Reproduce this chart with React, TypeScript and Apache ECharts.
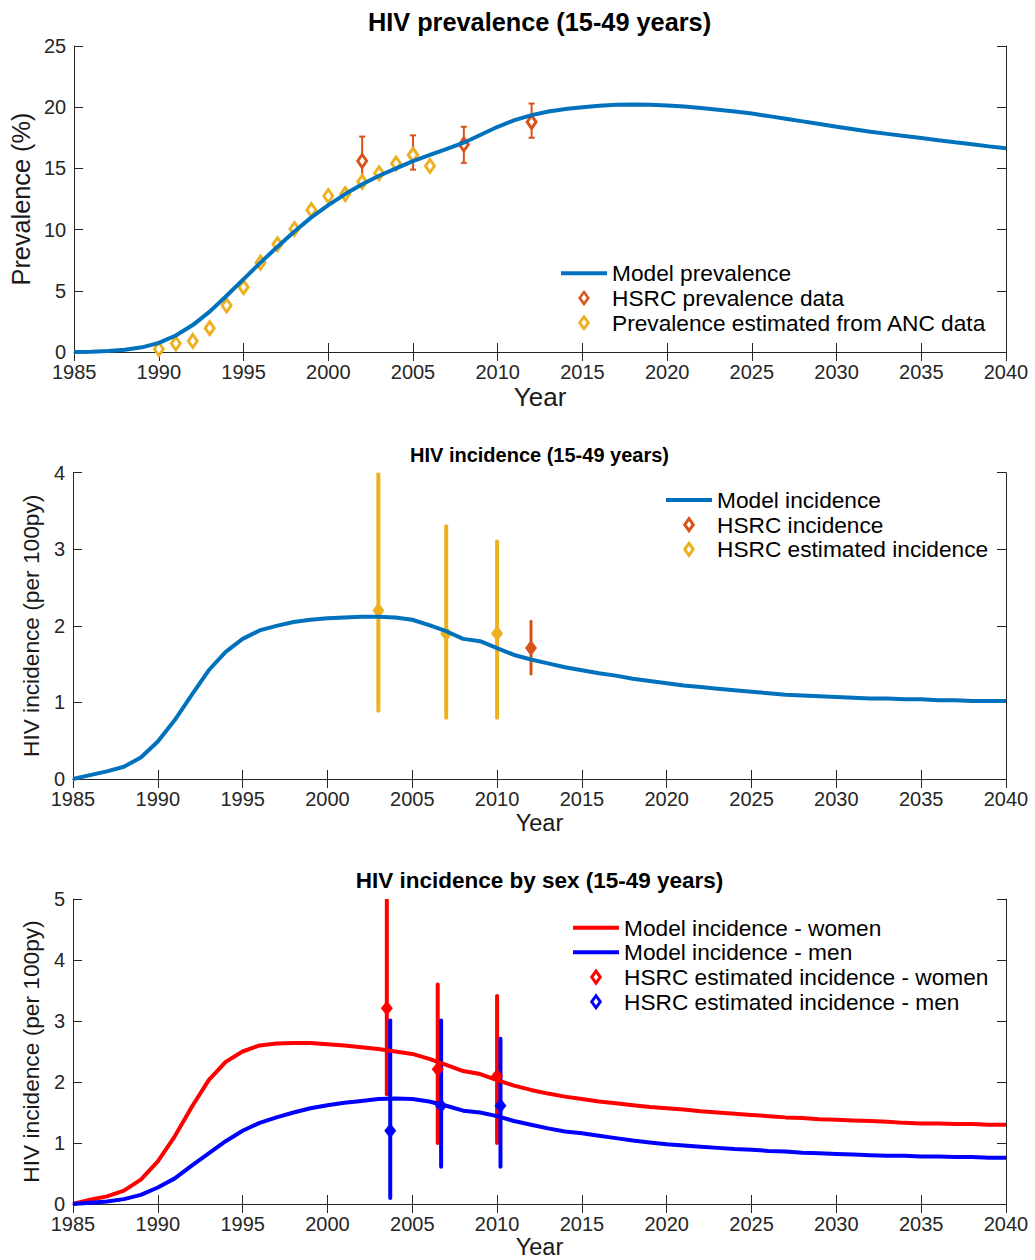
import React, { useEffect, useRef } from "react";
import * as echarts from "echarts";

const FONT = "'Liberation Sans', Arial, Helvetica, sans-serif";
const AX = "#262626";
const BLUE = "#0072BD";
const ORANGE = "#D95319";
const YELLOW = "#EDB120";
const RED = "#FF0000";
const PURE_BLUE = "#0000FF";

const years = [
  1985, 1986, 1987, 1988, 1989, 1990, 1991, 1992, 1993, 1994, 1995, 1996, 1997, 1998,
  1999, 2000, 2001, 2002, 2003, 2004, 2005, 2006, 2007, 2008, 2009, 2010, 2011, 2012,
  2013, 2014, 2015, 2016, 2017, 2018, 2019, 2020, 2021, 2022, 2023, 2024, 2025, 2026,
  2027, 2028, 2029, 2030, 2031, 2032, 2033, 2034, 2035, 2036, 2037, 2038, 2039, 2040,
];

// Panel 1: prevalence
const modelPrevalence = [
  0.0, 0.03, 0.08, 0.18, 0.38, 0.75, 1.35, 2.2, 3.3, 4.6, 5.95, 7.3, 8.6, 9.85,
  11.0, 12.0, 12.9, 13.7, 14.4, 15.0, 15.6, 16.1, 16.6, 17.1, 17.75, 18.4, 18.95, 19.35,
  19.65, 19.85, 20.0, 20.12, 20.2, 20.22, 20.2, 20.13, 20.05, 19.93, 19.8, 19.65, 19.48, 19.27,
  19.06, 18.84, 18.62, 18.4, 18.2, 18.0, 17.82, 17.65, 17.48, 17.3, 17.13, 16.97, 16.8, 16.65,
];
const ancYears = [1990, 1991, 1992, 1993, 1994, 1995, 1996, 1997, 1998, 1999, 2000, 2001, 2002, 2003, 2004, 2005, 2006];
const ancPrevalence = [0.25, 0.7, 0.9, 1.95, 3.8, 5.3, 7.3, 8.8, 10.05, 11.6, 12.75, 12.9, 13.9, 14.6, 15.4, 16.1, 15.2];
const hsrcPrevYears = [2002, 2005, 2008, 2012];
const hsrcPrev = [15.6, 16.1, 16.95, 18.8];
const hsrcPrevLow = [13.6, 14.9, 15.45, 17.5];
const hsrcPrevHigh = [17.6, 17.7, 18.4, 20.3];

// Panel 2: incidence
const modelIncidence = [
  0.0, 0.05, 0.1, 0.16, 0.28, 0.49, 0.77, 1.1, 1.42, 1.66, 1.83, 1.94, 2.0, 2.05,
  2.08, 2.1, 2.11, 2.12, 2.12, 2.11, 2.08, 2.01, 1.93, 1.83, 1.8, 1.71, 1.62, 1.56,
  1.51, 1.46, 1.42, 1.38, 1.35, 1.31, 1.28, 1.25, 1.22, 1.2, 1.18, 1.16, 1.14, 1.12,
  1.1, 1.09, 1.08, 1.07, 1.06, 1.05, 1.05, 1.04, 1.04, 1.03, 1.03, 1.02, 1.02, 1.02,
];
const hsrcEstYears = [2003, 2007, 2010];
const hsrcEst = [2.2, 1.9, 1.9];
const hsrcEstLow = [0.89, 0.8, 0.8];
const hsrcEstHigh = [4.05, 3.3, 3.1];
const hsrcIncYears = [2012];
const hsrcInc = [1.71];
const hsrcIncLow = [1.37];
const hsrcIncHigh = [2.06];

// Panel 3: incidence by sex
const modelWomen = [
  0.0, 0.07, 0.125, 0.22, 0.4, 0.7, 1.11, 1.59, 2.03, 2.33, 2.5, 2.6, 2.63, 2.64,
  2.64, 2.62, 2.6, 2.57, 2.54, 2.5, 2.46, 2.38, 2.28, 2.18, 2.13, 2.03, 1.94, 1.87,
  1.81, 1.76, 1.72, 1.68, 1.65, 1.62, 1.59, 1.57, 1.55, 1.52, 1.5, 1.48, 1.46, 1.44,
  1.42, 1.41, 1.39, 1.38, 1.37, 1.36, 1.35, 1.33, 1.32, 1.32, 1.31, 1.31, 1.3, 1.3,
];
const modelMen = [
  0.0, 0.02, 0.04, 0.08, 0.15, 0.27, 0.42, 0.63, 0.83, 1.03, 1.2, 1.33, 1.42, 1.5,
  1.57, 1.62, 1.66, 1.69, 1.72, 1.73, 1.72, 1.68, 1.61, 1.53, 1.5, 1.44, 1.36, 1.3,
  1.24, 1.19, 1.16, 1.12, 1.08, 1.04, 1.01, 0.98, 0.96, 0.94, 0.92, 0.9, 0.89, 0.87,
  0.86, 0.84, 0.83, 0.82, 0.81, 0.8, 0.79, 0.79, 0.78, 0.78, 0.77, 0.77, 0.76, 0.76,
];
const womenYears = [2003.5, 2006.5, 2010.0];
const womenEst = [3.21, 2.21, 2.1];
const womenLow = [1.8, 1.0, 1.0];
const womenHigh = [5.05, 3.6, 3.41];
const menYears = [2003.7, 2006.7, 2010.2];
const menEst = [1.2, 1.61, 1.61];
const menLow = [0.1, 0.61, 0.61];
const menHigh = [3.01, 3.01, 2.71];

const xTicks = { min: 1985, max: 2040, interval: 5 };
const yPrev = { min: 0, max: 25, interval: 5 };
const yInc = { min: 0, max: 4, interval: 1 };
const ySex = { min: 0, max: 5, interval: 1 };

const DIAMOND = "path://M5,0L10,7L5,14L0,7Z";
const LINE_ICON = "path://M0,0L46,0L46,4L0,4Z";

const pairs = (xs: number[], ys: number[]) => xs.map((x, i) => [x, ys[i]]);
const quads = (xs: number[], ys: number[], lo: number[], hi: number[]) =>
  xs.map((x, i) => [x, ys[i], lo[i], hi[i]]);

const errorBar = (cap: number, width: number, color: string) => (params: any, api: any) => {
  const x = api.value(0);
  const lo = api.coord([x, api.value(2)]);
  const hi = api.coord([x, api.value(3)]);
  const style = { stroke: color, lineWidth: width, lineCap: cap > 0 ? "butt" : "round" };
  const children: any[] = [
    { type: "line", shape: { x1: lo[0], y1: lo[1], x2: hi[0], y2: hi[1] }, style },
  ];
  if (cap > 0) {
    children.push({ type: "line", shape: { x1: lo[0] - cap, y1: lo[1], x2: lo[0] + cap, y2: lo[1] }, style });
    children.push({ type: "line", shape: { x1: hi[0] - cap, y1: hi[1], x2: hi[0] + cap, y2: hi[1] }, style });
  }
  return { type: "group", children };
};

const tickStyle = { inside: true, length: 9, lineStyle: { color: AX, width: 1 } };
const lineStyleAx = { lineStyle: { color: AX, width: 1 } };

function makeAxes(gridIndex: number, yRange: any, yName: string, yNameSize: number, yNameGap: number, xNameSize: number, xNameGap: number) {
  const xAxes = [
    {
      type: "value", gridIndex, position: "bottom", ...xTicks,
      name: "Year", nameLocation: "middle", nameGap: xNameGap,
      nameTextStyle: { fontFamily: FONT, fontSize: xNameSize, color: "#1a1a1a" },
      axisLine: lineStyleAx, axisTick: tickStyle, splitLine: { show: false },
      axisLabel: { fontFamily: FONT, fontSize: 20, lineHeight: 20, color: AX, margin: 10, formatter: (v: number) => String(v) },
    },
    {
      type: "value", gridIndex, position: "top", ...xTicks,
      axisLine: lineStyleAx, axisTick: tickStyle, splitLine: { show: false }, axisLabel: { show: false },
    },
  ];
  const yAxes = [
    {
      type: "value", gridIndex, position: "left", ...yRange,
      name: yName, nameLocation: "middle", nameGap: yNameGap,
      nameTextStyle: { fontFamily: FONT, fontSize: yNameSize, color: "#1a1a1a" },
      axisLine: { show: true, ...lineStyleAx }, axisTick: { show: true, ...tickStyle }, splitLine: { show: false },
      axisLabel: { fontFamily: FONT, fontSize: 20, lineHeight: 18, color: AX, margin: 8 },
    },
    {
      type: "value", gridIndex, position: "right", ...yRange,
      axisLine: { show: true, ...lineStyleAx }, axisTick: { show: true, ...tickStyle }, splitLine: { show: false },
      axisLabel: { show: false },
    },
  ];
  return { xAxes, yAxes };
}

const legendBase = {
  orient: "vertical",
  padding: 0,
  itemGap: 0,
  selectedMode: false,
  textStyle: { fontFamily: FONT, fontSize: 22.7, color: "#000", lineHeight: 24.7 },
};

const diamondIcon = (c: string) => ({ icon: DIAMOND, itemStyle: { color: "#fff", borderColor: c, borderWidth: 3 } });
const lineIcon = (c: string) => ({ icon: LINE_ICON, itemStyle: { color: c, borderWidth: 0 } });

function buildOption() {
  const a0 = makeAxes(0, yPrev, "Prevalence (%)", 25.3, 40, 26, 32);
  const a1 = makeAxes(1, yInc, "HIV incidence (per 100py)", 22.7, 19, 23.5, 32);
  const a2 = makeAxes(2, ySex, "HIV incidence (per 100py)", 22.7, 19, 23.5, 31);

  // axis indices: grid0 -> x 0,1 y 0,1 ; grid1 -> x 2,3 y 2,3 ; grid2 -> x 4,5 y 4,5
  return {
    animation: false,
    backgroundColor: "#fff",
    textStyle: { fontFamily: FONT },
    title: [
      { text: "HIV prevalence (15-49 years)", left: 539.5, top: 9.5, textAlign: "center", padding: 0,
        textStyle: { fontFamily: FONT, fontSize: 25.3, fontWeight: "bold", color: "#000" } },
      { text: "HIV incidence (15-49 years)", left: 539.5, top: 445, textAlign: "center", padding: 0,
        textStyle: { fontFamily: FONT, fontSize: 20, fontWeight: "bold", color: "#000" } },
      { text: "HIV incidence by sex (15-49 years)", left: 539.5, top: 868.5, textAlign: "center", padding: 0,
        textStyle: { fontFamily: FONT, fontSize: 22.5, fontWeight: "bold", color: "#000" } },
    ],
    grid: [
      { left: 73, top: 46, width: 933, height: 306 },
      { left: 73, top: 472.7, width: 933, height: 306.3 },
      { left: 73, top: 899, width: 933, height: 308 },
    ],
    xAxis: [...a0.xAxes, ...a1.xAxes, ...a2.xAxes],
    yAxis: [...a0.yAxes, ...a1.yAxes, ...a2.yAxes],
    legend: [
      {
        ...legendBase, left: 561, top: 261, itemWidth: 46, itemHeight: 12,
        data: [
          { name: "Model prevalence", ...lineIcon(BLUE) },
          { name: "HSRC prevalence data", icon: DIAMOND, itemStyle: { color: "#fff", borderColor: ORANGE, borderWidth: 2.5 } },
          { name: "Prevalence estimated from ANC data", ...diamondIcon(YELLOW) },
        ],
      },
      {
        ...legendBase, left: 666, top: 487.6, itemWidth: 46, itemHeight: 12,
        data: [
          { name: "Model incidence", ...lineIcon(BLUE) },
          { name: "HSRC incidence", ...diamondIcon(ORANGE) },
          { name: "HSRC estimated incidence", ...diamondIcon(YELLOW) },
        ],
      },
      {
        ...legendBase, left: 573, top: 915.3, itemWidth: 46, itemHeight: 12,
        data: [
          { name: "Model incidence - women", ...lineIcon(RED) },
          { name: "Model incidence - men", ...lineIcon(PURE_BLUE) },
          { name: "HSRC estimated incidence - women", ...diamondIcon(RED) },
          { name: "HSRC estimated incidence - men", ...diamondIcon(PURE_BLUE) },
        ],
      },
    ],
    series: [
      // Panel 1
      {
        name: "Model prevalence", type: "line", xAxisIndex: 0, yAxisIndex: 0,
        data: pairs(years, modelPrevalence), symbol: "none", showSymbol: false,
        lineStyle: { color: BLUE, width: 4 }, itemStyle: { color: BLUE },
      },
      {
        name: "HSRC prevalence bars", type: "custom", xAxisIndex: 0, yAxisIndex: 0, clip: true,
        data: quads(hsrcPrevYears, hsrcPrev, hsrcPrevLow, hsrcPrevHigh),
        encode: { x: 0, y: 1 }, renderItem: errorBar(3, 2, ORANGE),
      },
      {
        name: "HSRC prevalence data", type: "scatter", xAxisIndex: 0, yAxisIndex: 0,
        data: pairs(hsrcPrevYears, hsrcPrev), symbol: "diamond", symbolSize: [9, 13],
        itemStyle: { color: "#fff", borderColor: ORANGE, borderWidth: 3, opacity: 1 },
      },
      {
        name: "Prevalence estimated from ANC data", type: "scatter", xAxisIndex: 0, yAxisIndex: 0,
        data: pairs(ancYears, ancPrevalence), symbol: "diamond", symbolSize: [9, 13],
        itemStyle: { color: "#fff", borderColor: YELLOW, borderWidth: 3, opacity: 1 },
      },
      // Panel 2
      {
        name: "Model incidence", type: "line", xAxisIndex: 2, yAxisIndex: 2,
        data: pairs(years, modelIncidence), symbol: "none", showSymbol: false,
        lineStyle: { color: BLUE, width: 4 }, itemStyle: { color: BLUE },
      },
      {
        name: "HSRC incidence bars", type: "custom", xAxisIndex: 2, yAxisIndex: 2, clip: true,
        data: quads(hsrcIncYears, hsrcInc, hsrcIncLow, hsrcIncHigh),
        encode: { x: 0, y: 1 }, renderItem: errorBar(0, 3, ORANGE),
      },
      {
        name: "HSRC incidence", type: "scatter", xAxisIndex: 2, yAxisIndex: 2,
        data: pairs(hsrcIncYears, hsrcInc), symbol: "diamond", symbolSize: [12, 16],
        itemStyle: { color: ORANGE, opacity: 1 },
      },
      {
        name: "HSRC estimated bars", type: "custom", xAxisIndex: 2, yAxisIndex: 2, clip: true,
        data: quads(hsrcEstYears, hsrcEst, hsrcEstLow, hsrcEstHigh),
        encode: { x: 0, y: 1 }, renderItem: errorBar(0, 4, YELLOW),
      },
      {
        name: "HSRC estimated incidence", type: "scatter", xAxisIndex: 2, yAxisIndex: 2,
        data: pairs(hsrcEstYears, hsrcEst), symbol: "diamond", symbolSize: [12, 16],
        itemStyle: { color: YELLOW, opacity: 1 },
      },
      // Panel 3
      {
        name: "Model incidence - women", type: "line", xAxisIndex: 4, yAxisIndex: 4,
        data: pairs(years, modelWomen), symbol: "none", showSymbol: false,
        lineStyle: { color: RED, width: 4 }, itemStyle: { color: RED },
      },
      {
        name: "Model incidence - men", type: "line", xAxisIndex: 4, yAxisIndex: 4,
        data: pairs(years, modelMen), symbol: "none", showSymbol: false,
        lineStyle: { color: PURE_BLUE, width: 4 }, itemStyle: { color: PURE_BLUE },
      },
      {
        name: "women bars", type: "custom", xAxisIndex: 4, yAxisIndex: 4, clip: true,
        data: quads(womenYears, womenEst, womenLow, womenHigh),
        encode: { x: 0, y: 1 }, renderItem: errorBar(0, 4, RED),
      },
      {
        name: "HSRC estimated incidence - women", type: "scatter", xAxisIndex: 4, yAxisIndex: 4,
        data: pairs(womenYears, womenEst), symbol: "diamond", symbolSize: [12, 15],
        itemStyle: { color: RED, opacity: 1 },
      },
      {
        name: "men bars", type: "custom", xAxisIndex: 4, yAxisIndex: 4, clip: true,
        data: quads(menYears, menEst, menLow, menHigh),
        encode: { x: 0, y: 1 }, renderItem: errorBar(0, 4, PURE_BLUE),
      },
      {
        name: "HSRC estimated incidence - men", type: "scatter", xAxisIndex: 4, yAxisIndex: 4,
        data: pairs(menYears, menEst), symbol: "diamond", symbolSize: [12, 15],
        itemStyle: { color: PURE_BLUE, opacity: 1 },
      },
    ],
  };
}

export default function App() {
  const ref = useRef<HTMLDivElement>(null);
  useEffect(() => {
    if (!ref.current) return;
    const chart = echarts.init(ref.current, undefined, { renderer: "svg" });
    chart.setOption(buildOption() as any);
    return () => chart.dispose();
  }, []);
  return (
    <div
      ref={ref}
      style={{ position: "absolute", left: 0, top: 0, width: 1035, height: 1260, background: "#fff" }}
    />
  );
}
